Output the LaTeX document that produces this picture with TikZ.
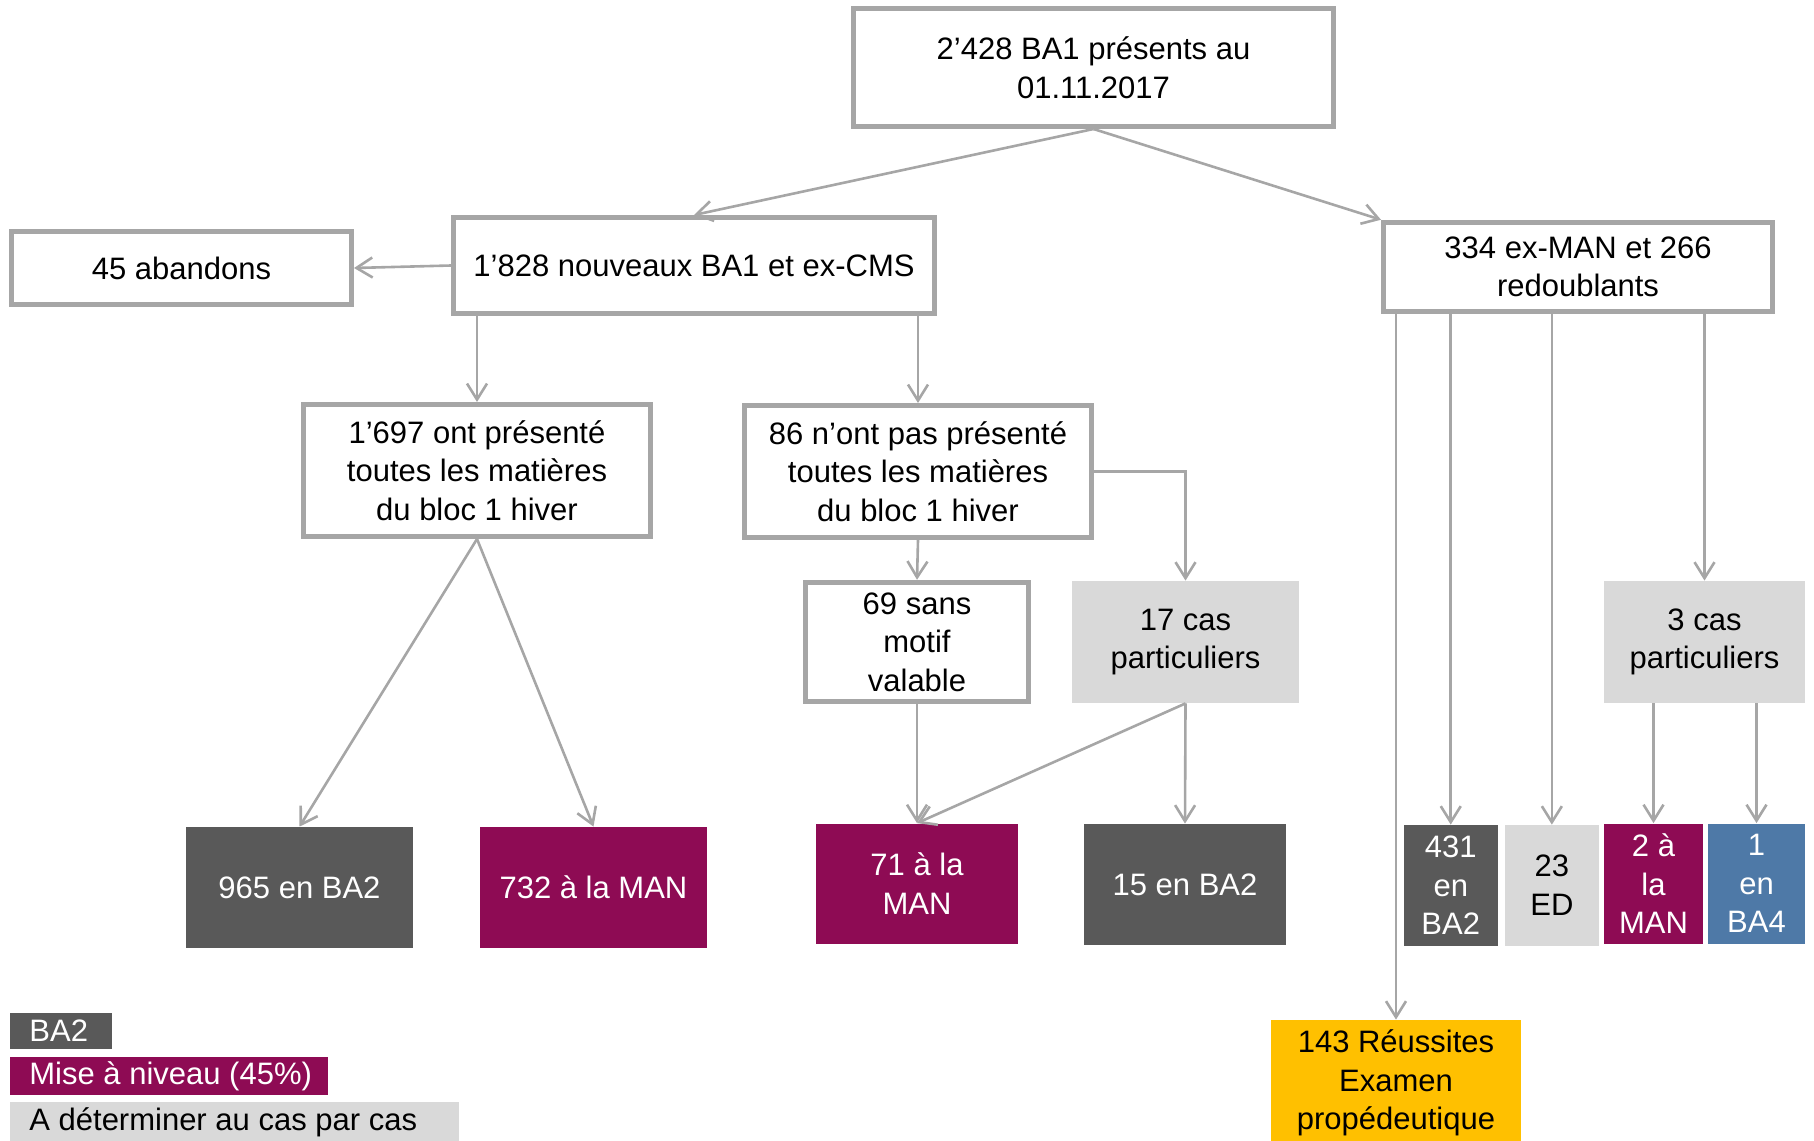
\documentclass[tikz,border=0pt]{standalone}
\usepackage{fontspec}
\setmainfont{Liberation Sans}
\usetikzlibrary{arrows.meta}
\definecolor{bgray}{HTML}{A6A6A6}
\definecolor{agray}{HTML}{A6A6A6}
\definecolor{dgray}{HTML}{595959}
\definecolor{lgray}{HTML}{D9D9D9}
\definecolor{mag}{RGB}{142,11,84}
\definecolor{blu}{RGB}{78,121,167}
\definecolor{yel}{HTML}{FFC000}
\newcommand\boxfont{\fontsize{15.5}{19.25}\selectfont}
\begin{document}
\begin{tikzpicture}[x=0.5pt,y=-0.5pt,
  bbox/.style={draw=bgray, line width=2.4pt, fill=white, align=center, inner sep=0pt, font=\boxfont},
  fbox/.style={align=center, inner sep=0pt, font=\boxfont},
  conn/.style={draw=agray, line width=1.3pt, -{Straight Barb[length=8pt,width=10pt]}},
  legtext/.style={anchor=west, inner sep=0pt, font=\boxfont}
]
\useasboundingbox (0,0) rectangle (1814,1140);

% bordered boxes
\node[bbox, minimum width=240.1pt, minimum height=59.1pt] (top) at (1093.5,67.5) {2’428 BA1 présents au\\01.11.2017};
\node[bbox, minimum width=240.6pt, minimum height=48.1pt] (nouv) at (694,265.5) {1’828 nouveaux BA1 et ex-CMS};
\node[bbox, minimum width=170.1pt, minimum height=36.4pt] (aband) at (181.5,268) {45 abandons};
\node[bbox, minimum width=194.6pt, minimum height=44.85pt] (right) at (1578,267) {334 ex-MAN et 266\\redoublants};
\node[bbox, minimum width=173.85pt, minimum height=66.1pt] (p1697) at (477,470.5) {1’697 ont présenté\\toutes les matières\\du bloc 1 hiver};
\node[bbox, minimum width=173.6pt, minimum height=66.1pt] (p86) at (918,471.5) {86 n’ont pas présenté\\toutes les matières\\du bloc 1 hiver};
\node[bbox, minimum width=111.6pt, minimum height=59.85pt] (p69) at (917,642) {69 sans\\motif\\valable};

% filled boxes
\node[fbox, fill=lgray, minimum width=113.5pt, minimum height=61pt] (c17) at (1185.5,642) {17 cas\\particuliers};
\node[fbox, fill=lgray, minimum width=100.5pt, minimum height=61pt] (c3) at (1704.5,642) {3 cas\\particuliers};
\node[fbox, fill=dgray, text=white, minimum width=113.5pt, minimum height=60.5pt] (b965) at (299.5,887.5) {965 en BA2};
\node[fbox, fill=mag, text=white, minimum width=113.5pt, minimum height=60.5pt] (b732) at (593.5,887.5) {732 à la MAN};
\node[fbox, fill=mag, text=white, minimum width=101pt, minimum height=60.25pt] (b71) at (917,883.75) {71 à la\\MAN};
\node[fbox, fill=dgray, text=white, minimum width=101pt, minimum height=60.5pt] (b15) at (1185,884.5) {15 en BA2};
\node[fbox, fill=dgray, text=white, minimum width=46.75pt, minimum height=60.3pt] (b431) at (1450.75,885.3) {431\\en\\BA2};
\node[fbox, fill=lgray, minimum width=46.85pt, minimum height=60.3pt] (b23) at (1551.85,885.3) {23\\ED};
\node[fbox, fill=mag, text=white, minimum width=49.5pt, minimum height=60.25pt] (b2) at (1653.5,883.75) {2 à\\la\\MAN};
\node[fbox, fill=blu, text=white, minimum width=48.5pt, minimum height=60.25pt] (b1) at (1756.5,883.75) {1\\en\\BA4};
\node[fbox, fill=yel, minimum width=125pt, minimum height=63pt] (reuss) at (1396,1083) {143 Réussites\\Examen\\propédeutique};

% connectors
\draw[conn] (top.south) -- (nouv.north);
\draw[conn] (top.south) -- (right.north west);
\draw[conn] (nouv.west) -- (aband.east);
\draw[conn] (p1697.north |- nouv.south) -- (p1697.north);
\draw[conn] (p86.north |- nouv.south) -- (p86.north);
\draw[conn] (p86.east) -| (c17.north);
\draw[conn] (p86.south) -- (p69.north);
\draw[conn] (p1697.south) -- (b965.north);
\draw[conn] (p1697.south) -- (b732.north);
\draw[conn] (p69.south) -- (b71.north);
\draw[conn] (c17.south) -- (b71.north);
\draw[conn] (c17.south) -- (b15.north);
\draw[conn] (reuss.north |- right.south) -- (reuss.north);
\draw[conn] (b431.north |- right.south) -- (b431.north);
\draw[conn] (b23.north |- right.south) -- (b23.north);
\draw[conn] (c3.north |- right.south) -- (c3.north);
\draw[conn] (b2.north |- c3.south) -- (b2.north);
\draw[conn] (b1.north |- c3.south) -- (b1.north);

% legend
\fill[dgray] (10,1012.5) rectangle (111.6,1049);
\node[legtext, text=white] (lgA) at (29,1031) {BA2};
\fill[mag] (10,1057) rectangle (328,1094.7);
\node[legtext, text=white] (lgB) at (29,1076) {Mise à niveau (45\%)};
\fill[lgray] (10,1102) rectangle (458.6,1150);
\node[legtext] (lgC) at (29,1122) {A déterminer au cas par cas};
\end{tikzpicture}
\end{document}
